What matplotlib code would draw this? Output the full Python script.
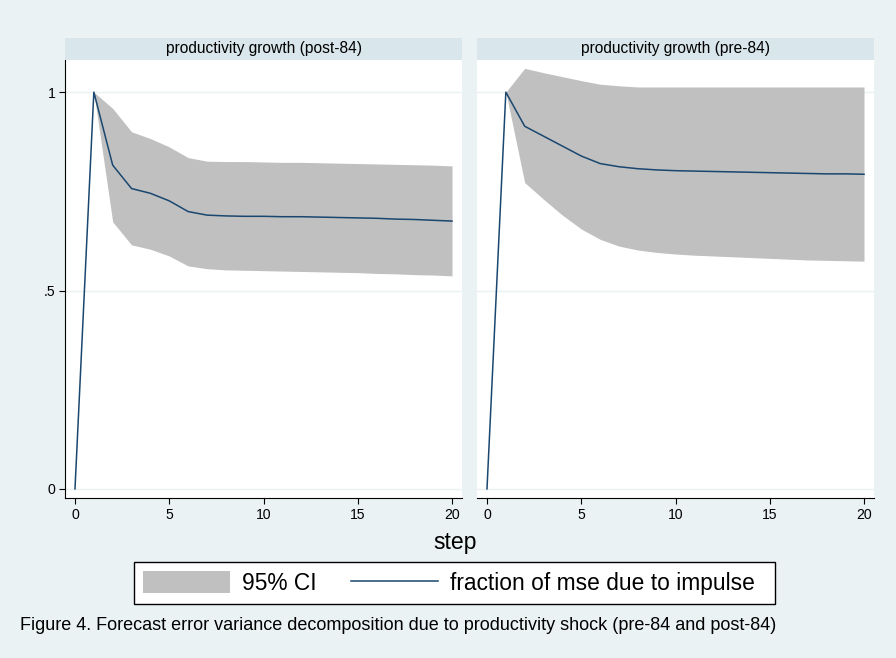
import matplotlib
matplotlib.use("Agg")
import matplotlib.pyplot as plt
from matplotlib.patches import Patch, Rectangle
from matplotlib.lines import Line2D

plt.rcParams['font.family'] = ['Liberation Sans', 'DejaVu Sans']

# data
steps = list(range(0, 21))

# post-84 panel
post_fevd = [0, 1.0, 0.816, 0.757, 0.745, 0.726, 0.699, 0.690, 0.688, 0.687, 0.687,
             0.686, 0.686, 0.685, 0.684, 0.683, 0.682, 0.680, 0.679, 0.677, 0.675]
post_hi = [0, 1.0, 0.959, 0.900, 0.883, 0.862, 0.835, 0.826, 0.825, 0.825, 0.824,
           0.823, 0.823, 0.822, 0.821, 0.820, 0.819, 0.818, 0.817, 0.816, 0.814]
post_lo = [0, 1.0, 0.673, 0.615, 0.604, 0.587, 0.562, 0.555, 0.552, 0.551, 0.550,
           0.549, 0.548, 0.547, 0.546, 0.545, 0.543, 0.542, 0.540, 0.539, 0.537]

# pre-84 panel
pre_fevd = [0, 1.0, 0.914, 0.889, 0.864, 0.839, 0.820, 0.812, 0.807, 0.804, 0.802,
            0.801, 0.800, 0.799, 0.798, 0.797, 0.796, 0.795, 0.794, 0.794, 0.793]
pre_hi = [0, 1.0, 1.060, 1.049, 1.039, 1.029, 1.020, 1.016, 1.013, 1.013, 1.013,
          1.013, 1.013, 1.013, 1.013, 1.013, 1.013, 1.013, 1.013, 1.013, 1.013]
pre_lo = [0, 1.0, 0.772, 0.730, 0.690, 0.655, 0.629, 0.612, 0.602, 0.596, 0.592,
          0.589, 0.587, 0.585, 0.583, 0.581, 0.579, 0.577, 0.576, 0.575, 0.574]

titles = ['productivity growth (post-84)', 'productivity growth (pre-84)']
xticks = [0, 5, 10, 15, 20]
yticks = [0, 0.5, 1]
yticklabels = ['0', '.5', '1']

bg = '#eaf2f3'
strip = '#d9e6eb'
navy = '#1a476f'
ci_gray = '#c0c0c0'

fig = plt.figure(figsize=(8.96, 6.58), dpi=100, facecolor=bg)

panels = [(post_fevd, post_lo, post_hi), (pre_fevd, pre_lo, pre_hi)]
lefts = [65 / 896, 477 / 896]
W, H = 896, 658
for i, (mid, lo, hi) in enumerate(panels):
    ax = fig.add_axes([lefts[i], (658 - 498) / H, 397 / W, 438 / H])
    ax.set_facecolor('white')
    ax.fill_between(steps, lo, hi, color=ci_gray, linewidth=0, zorder=2)
    ax.plot(steps, mid, color=navy, linewidth=1.1, zorder=3)
    ax.set_xlim(-0.53, 20.53)
    ax.set_ylim(-0.023, 1.081)
    for yv in yticks:
        ax.axhline(yv, color=bg, linewidth=1, zorder=1)
    ax.set_xticks(xticks)
    ax.set_xticklabels([str(x) for x in xticks], fontsize=10.1)
    ax.set_yticks(yticks)
    for s in ['top', 'right']:
        ax.spines[s].set_visible(False)
    ax.spines['bottom'].set_color('black')
    ax.spines['bottom'].set_linewidth(0.8)
    ax.tick_params(axis='x', length=4, width=0.8, pad=3)
    if i == 0:
        ax.set_yticklabels(yticklabels, fontsize=10.1)
        ax.spines['left'].set_linewidth(0.8)
        ax.tick_params(axis='y', length=4, width=0.8, pad=3)
    else:
        ax.spines['left'].set_visible(False)
        ax.tick_params(axis='y', left=False, labelleft=False)
    # strip header
    sax = fig.add_axes([lefts[i], (658 - 60) / H, 397 / W, 22 / H])
    sax.set_facecolor(strip)
    sax.set_xticks([])
    sax.set_yticks([])
    for s in sax.spines.values():
        s.set_visible(False)
    sax.text(0.5, 0.5, titles[i], ha='center', va='center', fontsize=11.2)

fig.text(455 / W, 1 - 542 / H, 'step', ha='center', va='center', fontsize=16.6)

# legend box drawn by hand (Stata pads the right side more)
fig.patches.append(Rectangle((134 / W, 1 - 604 / H), 641 / W, 42 / H,
                             transform=fig.transFigure, facecolor='white',
                             edgecolor='black', linewidth=1.0, zorder=1))
handles = [Patch(facecolor=ci_gray, edgecolor='none'),
           Line2D([0], [0], color=navy, linewidth=1.1)]
leg = fig.legend(handles, ['95% CI', 'fraction of mse due to impulse'],
                 loc='center', bbox_to_anchor=(449 / W, 1 - 583 / H), ncol=2,
                 fontsize=16.4, frameon=False, handlelength=3.8,
                 handleheight=1.1, handletextpad=0.55, columnspacing=1.5,
                 borderpad=0.3)
leg.set_zorder(2)

fig.text(20 / W, 1 - 626 / H,
         'Figure 4. Forecast error variance decomposition due to productivity shock (pre-84 and post-84)',
         ha='left', va='center', fontsize=13)

fig.savefig('out.png', dpi=100, facecolor=bg)
